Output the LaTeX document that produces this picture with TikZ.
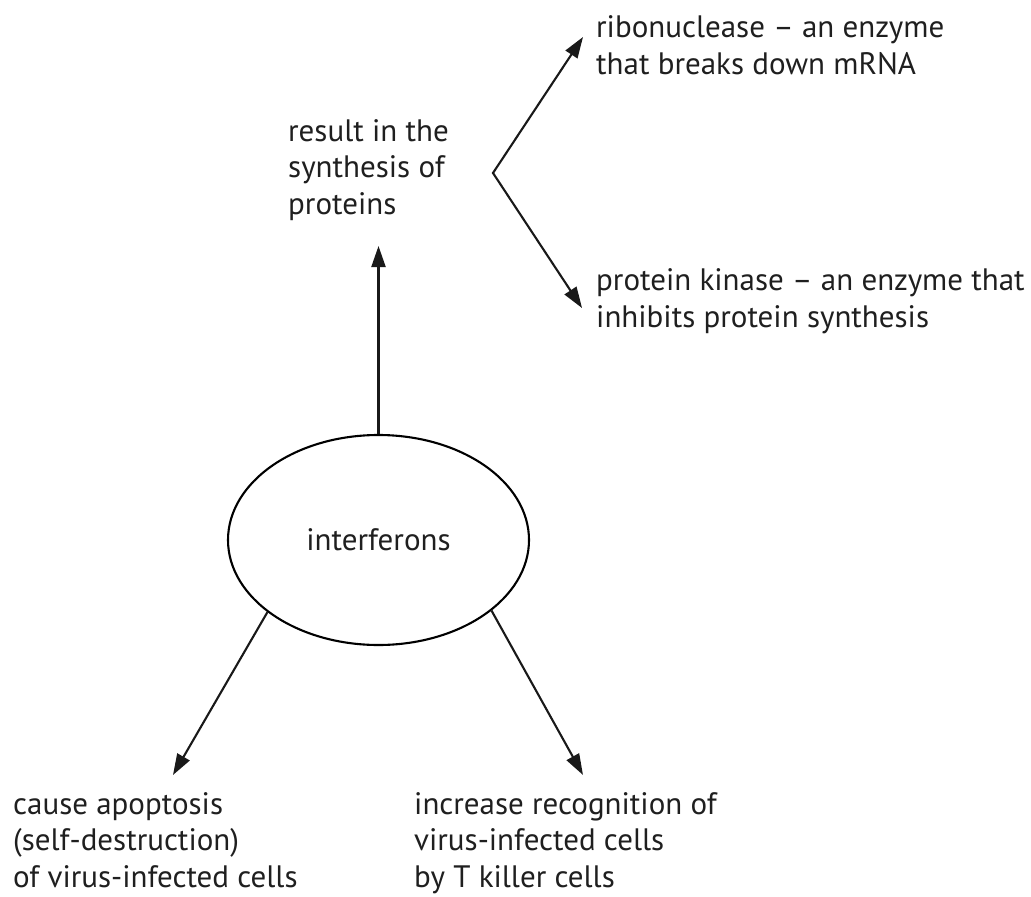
\documentclass[tikz,border=0pt]{standalone}
\usepackage{fontspec}
\setmainfont{PT Sans}
\usetikzlibrary{arrows.meta,shapes.geometric}
\begin{document}
\begin{tikzpicture}[x=1pt,y=-1pt,
  lbl/.style={anchor=base west,inner sep=0pt,align=left,text=black!88,
    font=\fontsize{31}{36.5}\selectfont},
  conn/.style={line width=2.1pt,black!90,-{Triangle[length=21pt,width=14pt]}},
  fork/.style={line width=2.1pt,black!90,{Triangle[length=21pt,width=14pt]}-{Triangle[length=21pt,width=14pt]}},
  bubble/.style={ellipse,draw,line width=2.1pt,minimum width=301pt,minimum height=210pt,inner sep=0pt,
    text=black!88,font=\fontsize{31}{36.5}\selectfont}]
\useasboundingbox (0,0) rectangle (1031,897);
\node[bubble] (ell) at (378.5,540) {interferons};
\node[lbl] (res) at (288,214) {result in the\\synthesis of\\proteins};
\node[lbl] (ribo) at (596,74) {ribonuclease -- an enzyme\\that breaks down mRNA};
\node[lbl] (kin) at (596,327) {protein kinase -- an enzyme that\\inhibits protein synthesis};
\node[lbl] (apo) at (13,887) {cause apoptosis\\(self-destruction)\\of virus-infected cells};
\node[lbl] (rec) at (414,887) {increase recognition of\\virus-infected cells\\by T killer cells};
\coordinate (tUp) at (378.5,246);
\coordinate (vFork) at (493,173);
\coordinate (tRibo) at (583,37);
\coordinate (tKin) at (582,308);
\coordinate (tApo) at (173,775);
\coordinate (tRec) at (583,775);
\draw[conn] (ell.north) -- (tUp);
\draw[fork] (tRibo) -- (vFork) -- (tKin);
\draw[conn] (ell.-147.6) -- (tApo);
\draw[conn] (ell.-32.4) -- (tRec);
\end{tikzpicture}
\end{document}
